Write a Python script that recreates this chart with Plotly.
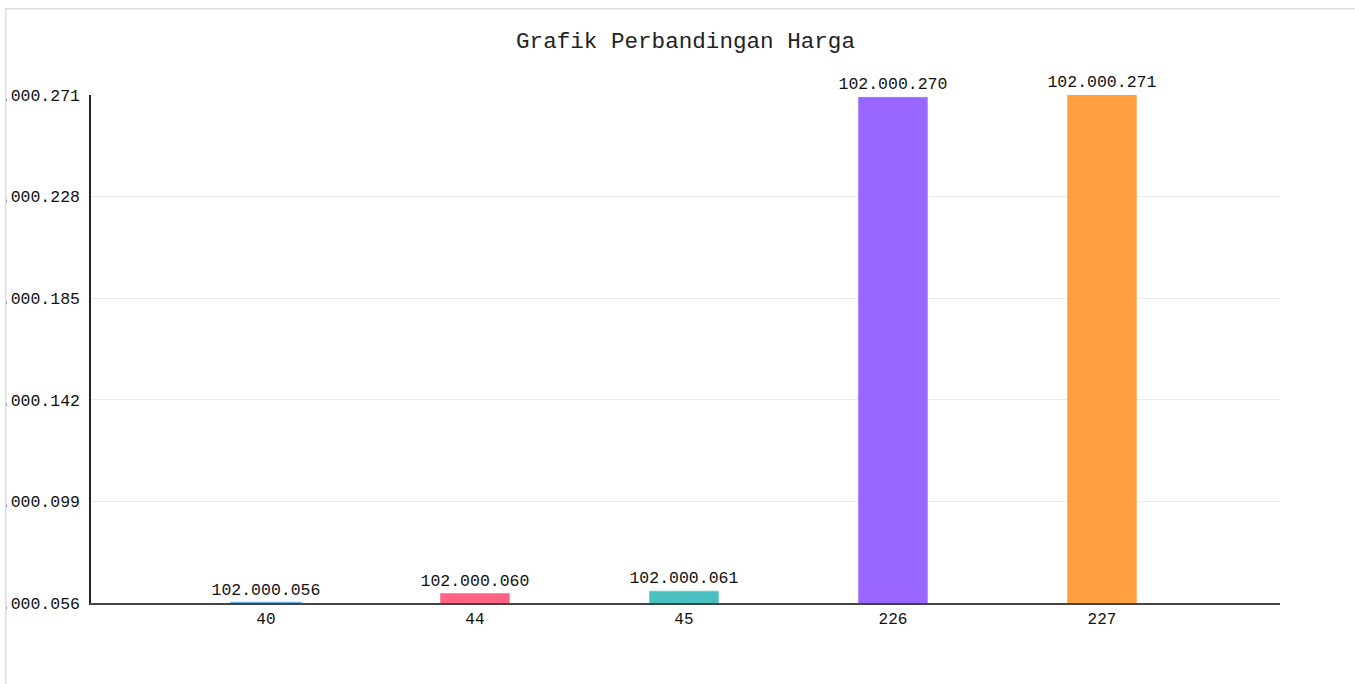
import plotly.graph_objects as go

categories = ["40", "44", "45", "226", "227"]
harga = [102000056, 102000060, 102000061, 102000270, 102000271]
bar_colors = ["#36a2eb", "#ff6384", "#4bc0c0", "#9966ff", "#ff9f40"]
border_colors = ["#6db8ee", "rgba(255,99,132,0.5)", "rgba(75,192,192,0.5)",
                 "rgba(153,102,255,0.5)", "rgba(255,159,64,0.5)"]
border_widths = [2.5, 1, 1, 1, 1]
y_ticks = [102000056, 102000099, 102000142, 102000185, 102000228, 102000271]


def fmt(v):
    return f"{v:,}".replace(",", ".")


OFF_X, OFF_Y = 5, 8
W, H = 1355 - OFF_X, 684 - OFF_Y
ML, MR, MT, MB = 91 - OFF_X, 1355 - 1280, 95 - OFF_Y, 684 - 603
FONT = "Liberation Mono, DejaVu Sans Mono, monospace"

fig = go.Figure(
    go.Bar(
        x=categories,
        y=harga,
        marker=dict(color=bar_colors, line=dict(color=border_colors, width=border_widths)),
        text=[fmt(v) for v in harga],
        textposition="outside",
        constraintext="none",
        textfont=dict(family=FONT, size=16.5, color="#111"),
        cliponaxis=False,
        hoverinfo="skip",
        width=0.33,
    )
)

pw = W - ML - MR
ph = H - MT - MB
fig.update_layout(
    width=W,
    height=H,
    margin=dict(l=ML, r=MR, t=MT, b=MB, autoexpand=False),
    paper_bgcolor="white",
    plot_bgcolor="white",
    showlegend=False,
    font=dict(family=FONT, size=16, color="#111"),
    title=dict(text="Grafik Perbandingan Harga", x=(685.5 - OFF_X) / W, xanchor="center",
               y=1 - 32 / H, yanchor="middle", yref="container", xref="container",
               font=dict(family=FONT, size=22.6, color="#222")),
    xaxis=dict(type="category", range=[-0.837, 4.852], showgrid=False,
               showline=True, linecolor="#444", linewidth=2, ticks="",
               layer="below traces", tickfont=dict(size=16, color="#111"),
               automargin=False),
    yaxis=dict(range=[y_ticks[0], y_ticks[-1]], tickvals=y_ticks,
               ticktext=[fmt(v) for v in y_ticks], showgrid=True,
               gridcolor="#ececec", gridwidth=1, showline=True,
               linecolor="#222", linewidth=1.5, ticks="", zeroline=False,
               tickfont=dict(size=16.5, color="#111"), automargin=False,
               ticklabelstandoff=6, layer="below traces"),
    shapes=[
        dict(type="line", xref="paper", yref="paper",
             x0=-ML / pw, x1=1 + MR / pw, y0=1 + MT / ph - 0.5 / ph, y1=1 + MT / ph - 0.5 / ph,
             line=dict(color="#dddddd", width=2)),
        dict(type="line", xref="paper", yref="paper",
             x0=-ML / pw + 0.5 / pw, x1=-ML / pw + 0.5 / pw, y0=-MB / ph, y1=1 + MT / ph,
             line=dict(color="#dddddd", width=2)),
    ],
)

fig.write_html(
    "out.html",
    post_script=f"document.body.style.margin='{OFF_Y}px 0 0 {OFF_X}px';"
                "document.body.style.overflow='hidden';",
)
